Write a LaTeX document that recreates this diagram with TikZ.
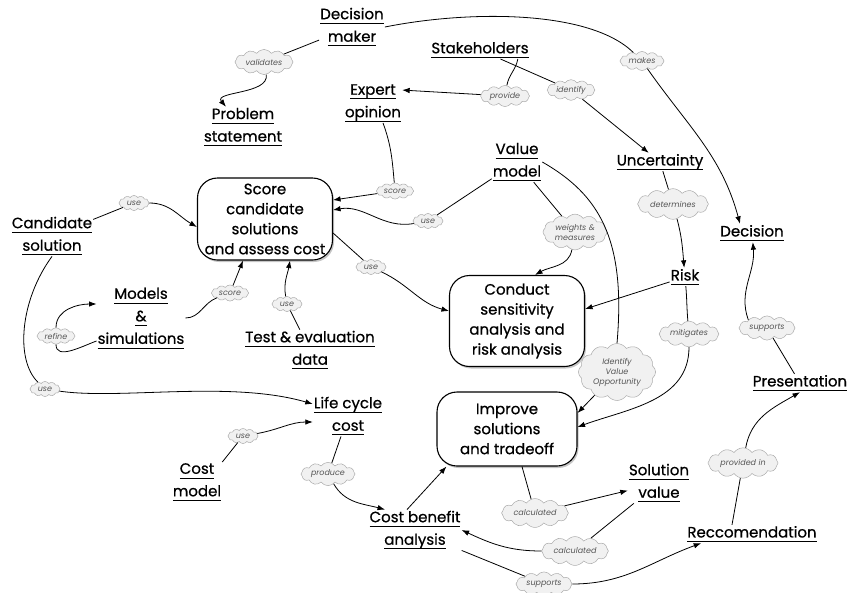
\documentclass[tikz,border=0pt]{standalone}
\usepackage{fontspec}
\newfontfamily\cfont[FakeBold=0.7]{Poppins}
\newfontfamily\lfont{Poppins}
\usetikzlibrary{shapes.symbols,shadows,arrows.meta,calc}
\newcommand\ulx[1]{\underline{\raisebox{0pt}[\height][2.5pt]{#1}}}
\definecolor{cloudfill}{HTML}{F1F1F1}
\definecolor{clouddraw}{HTML}{ABABAB}
\definecolor{cloudtext}{HTML}{555555}
\tikzset{
  concept/.style={font=\cfont\fontsize{15}{22.5}\selectfont, align=center, inner sep=1pt},
  proc/.style={draw, line width=1.1pt, rounded corners=20pt, fill=white, align=center,
    font=\cfont\fontsize{15}{20}\selectfont, inner sep=2pt,
    drop shadow={opacity=0.45, shadow xshift=1.5pt, shadow yshift=-2pt}},
  lab/.style={cloud, cloud puffs=12, cloud puff arc=110, aspect=3.2, draw=clouddraw, fill=cloudfill,
    text=cloudtext, font=\lfont\itshape\fontsize{8}{10}\selectfont, inner xsep=2pt, inner ysep=0pt,
    minimum width=30pt, minimum height=15pt, align=center, line width=0.5pt},
  conn/.style={line width=0.8pt},
  arr/.style={conn, -{Latex[length=7.5pt,width=5.5pt]}}
}
\begin{document}
\begin{tikzpicture}[x=1pt,y=-1pt]
\useasboundingbox (0,0) rectangle (853,592);
% concepts
\node[concept] (dm) at (352,27) {\ulx{Decision}\\\ulx{maker}};
\node[concept] (ps) at (243,127) {\ulx{Problem}\\\ulx{statement}};
\node[concept] (sh) at (480,50) {\ulx{Stakeholders}};
\node[concept] (eo) at (373,103) {\ulx{Expert}\\\ulx{opinion}};
\node[concept] (vm) at (517,162) {\ulx{Value}\\\ulx{model}};
\node[concept] (unc) at (660,162) {\ulx{Uncertainty}};
\node[concept] (dec) at (752,233) {\ulx{Decision}};
\node[concept] (cand) at (52,236) {\ulx{Candidate}\\\ulx{solution}};
\node[concept] (mod) at (141,318) {\ulx{Models}\\\ulx{\&}\\\ulx{simulations}};
\node[concept] (ted) at (310,350) {\ulx{Test \& evaluation}\\\ulx{data}};
\node[concept] (risk) at (685,277) {\ulx{Risk}};
\node[concept] (pres) at (800,383) {\ulx{Presentation}};
\node[concept] (lcc) at (348,416) {\ulx{Life cycle}\\\ulx{cost}};
\node[concept] (cm) at (197,482) {\ulx{Cost}\\\ulx{model}};
\node[concept] (cba) at (415,530) {\ulx{Cost benefit}\\\ulx{analysis}};
\node[concept] (sv) at (659,483) {\ulx{Solution}\\\ulx{value}};
\node[concept] (rec) at (752,534) {\ulx{Reccomendation}};
% process boxes
\node[proc, minimum width=135pt, minimum height=82pt] (score) at (265,219) {Score\\candidate\\solutions\\and assess cost};
\node[proc, minimum width=135pt, minimum height=91pt] (cond) at (517,321) {Conduct\\sensitivity\\analysis and\\risk analysis};
\node[proc, minimum width=140pt, minimum height=74pt] (imp) at (507,429) {Improve\\solutions\\and tradeoff};
% labels
\node[lab] (val) at (264,62) {validates};
\node[lab] (prov) at (505,96) {provide};
\node[lab] (iden) at (571,90) {identify};
\node[lab] (makes) at (642,61) {makes};
\node[lab] (sc1) at (395,191) {score};
\node[lab] (use1) at (428,221) {use};
\node[lab, aspect=2.2] (wm) at (575,232) {weights \&\\measures};
\node[lab] (det) at (673,204) {determines};
\node[lab] (use2) at (134,203) {use};
\node[lab] (sc2) at (230,293) {score};
\node[lab] (ref) at (56,336) {refine};
\node[lab] (use4) at (287,304) {use};
\node[lab] (use5) at (371,267) {use};
\node[lab] (mit) at (689,334) {mitigates};
\node[lab] (sup1) at (767,328) {supports};
\node[lab, aspect=1.5] (ivo) at (617,372) {Identify\\Value\\Opportunity};
\node[lab] (use3) at (45,389) {use};
\node[lab] (use6) at (243,436) {use};
\node[lab] (prod) at (328,474) {produce};
\node[lab] (calc1) at (535,513) {calculated};
\node[lab] (calc2) at (575,551) {calculated};
\node[lab] (sup2) at (544,584) {supports};
\node[lab] (prov2) at (743,463) {provided in};
% connectors
\draw[conn] (dm) -- (val);
\draw[arr] (val) to[out=-80,in=130] (ps);
\draw[conn] ([xshift=-12pt]sh.south east) to[out=-100,in=80] (prov);
\draw[arr] (prov) -- ([yshift=-7pt]eo.north east);
\draw[conn] (sh) -- (iden);
\draw[arr] (iden) -- (unc);
\draw[conn] (dm.east) .. controls (470,10) and (590,10) .. (makes);
\draw[arr] (makes) to[out=-55,in=105] ([xshift=-12pt]dec.north);
\draw[conn] ([xshift=10pt]eo.south) to[out=-70,in=95] (sc1);
\draw[arr] (sc1) -- ([yshift=19pt]score.east);
\draw[conn] (vm) -- (use1);
\draw[arr] (use1) to[out=190,in=10] ([yshift=9pt]score.east);
\draw[conn] (vm) -- (wm);
\draw[arr] (wm) to[out=-100,in=30] ([xshift=18pt]cond.north);
\draw[conn] (vm.east) .. controls (600,195) and (626,240) .. (ivo.north);
\draw[arr] (ivo) -- ([yshift=16pt]imp.east);
\draw[conn] (unc) -- (det);
\draw[arr] (det) to[out=-75,in=95] (risk);
\draw[arr] (risk) -- ([yshift=12pt]cond.east);
\draw[conn] (risk) to[out=-85,in=95] (mit);
\draw[arr] (mit) to[out=-90,in=20] ([yshift=2pt]imp.east);
\draw[conn] (pres) -- (sup1);
\draw[arr] (sup1.north west) to[out=110,in=-85] (dec);
\draw[conn] (cand) -- (use2);
\draw[arr] (use2) to[out=0,in=150] ([yshift=-8pt]score.west);
\draw[conn] (cand.south) .. controls (20,300) and (15,360) .. (use3);
\draw[arr] (use3) .. controls (120,400) and (230,380) .. ([yshift=12pt]lcc.west);
\draw[conn] (mod.east) to[out=0,in=-160] (sc2);
\draw[arr] (sc2) -- ([xshift=-22pt]score.south);
\draw[conn] ([yshift=-23pt]mod.west) to[out=200,in=-90] (ref);
\draw[arr] (ref) to[out=90,in=180] ([yshift=14pt]mod.west);
\draw[conn] (ted) -- (use4);
\draw[arr] (use4) to[out=100,in=-100] ([xshift=25pt]score.south);
\draw[conn] ([yshift=-14pt]score.east) -- (use5);
\draw[arr] (use5) to[out=-25,in=165] ([yshift=10pt]cond.west);
\draw[conn] (cm.north east) -- (use6);
\draw[arr] (use6) to[out=10,in=180] ([yshift=-6pt]lcc.west);
\draw[conn] (lcc) -- (prod);
\draw[arr] (prod) to[out=-60,in=165] ([xshift=-30pt]cba.north);
\draw[arr] ([xshift=-8pt]cba.north) -- ([xshift=10pt]imp.south west);
\draw[conn] ([xshift=15pt]imp.south) -- (calc1);
\draw[arr] (calc1) -- (sv);
\draw[conn] (sv) -- (calc2);
\draw[arr] (calc2) to[out=180,in=-25] (cba.east);
\draw[conn] (cba.south east) -- (sup2);
\draw[arr] (sup2) to[out=0,in=-160] ([xshift=15pt]rec.south west);
\draw[conn] ([xshift=-20pt]rec.north) -- (prov2);
\draw[arr] (prov2) to[out=80,in=-150] (pres.south);
\end{tikzpicture}
\end{document}
